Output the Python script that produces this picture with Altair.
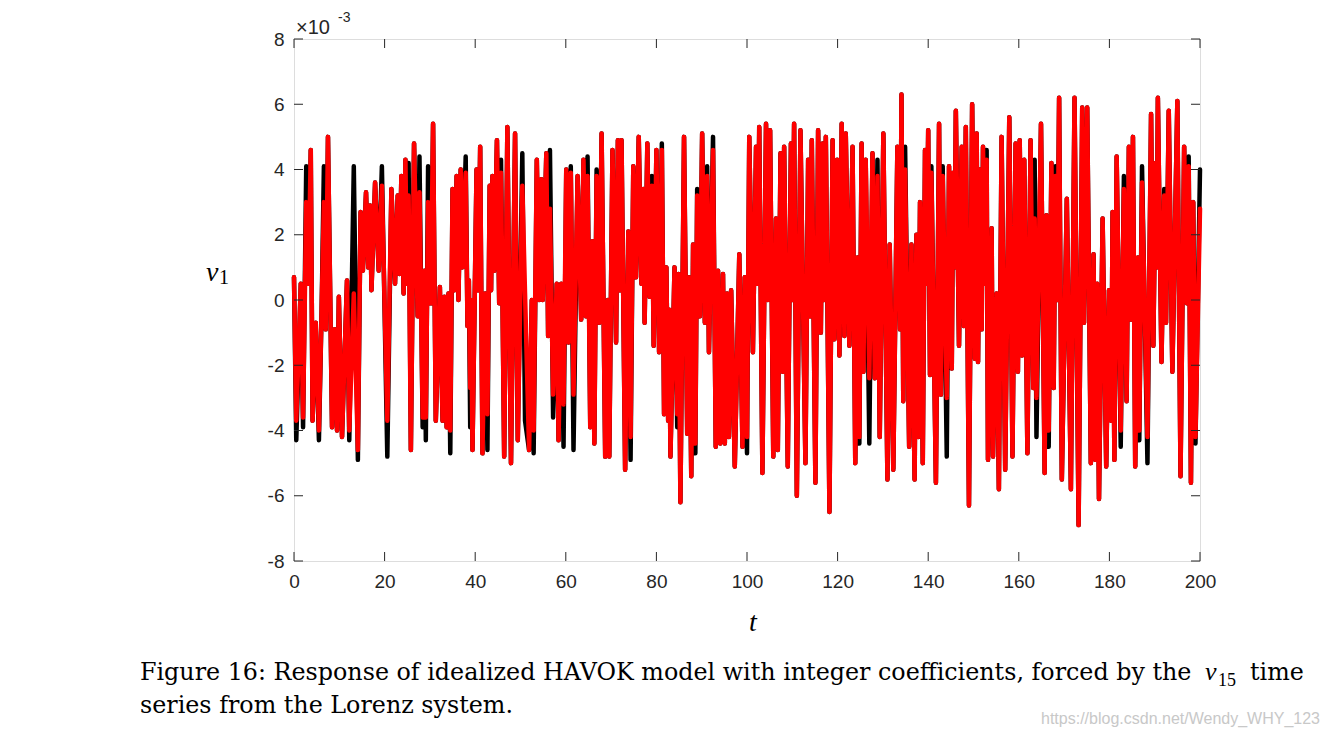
import altair as alt
import pandas as pd

# ---------------- data ----------------
t_vals = [
    0.0, 0.5, 1.5, 2.0, 2.7, 3.2, 3.7, 4.1, 4.8, 5.5,
    6.1, 6.6, 7.0, 7.5, 8.4, 9.0, 9.5, 9.9, 10.6, 11.7,
    12.2, 13.2, 14.1, 14.7, 15.2, 15.9, 16.4, 16.8, 17.1, 17.9,
    18.7, 19.4, 20.6, 21.5, 22.3, 22.9, 23.3, 23.7, 24.2, 24.6,
    24.9, 25.3, 25.8, 26.5, 27.3, 27.7, 28.4, 28.8, 29.1, 29.6,
    30.2, 30.7, 31.3, 32.2, 32.8, 33.2, 33.7, 34.1, 34.5, 35.0,
    35.4, 35.9, 36.3, 36.8, 37.2, 37.9, 38.3, 38.6, 38.9, 39.1,
    39.4, 40.3, 40.7, 41.1, 41.6, 42.2, 42.7, 43.2, 43.5, 43.8,
    44.2, 44.8, 45.3, 45.7, 46.4, 47.1, 47.9, 48.8, 49.4, 50.4,
    51.0, 51.9, 52.5, 52.9, 53.6, 54.1, 54.6, 54.9, 55.7, 56.1,
    56.5, 57.2, 58.0, 58.4, 59.0, 59.5, 60.1, 60.6, 61.1, 61.7,
    62.6, 63.4, 63.9, 64.4, 64.8, 65.4, 65.9, 66.3, 66.8, 67.4,
    67.9, 68.7, 69.3, 69.6, 70.3, 71.1, 71.5, 72.0, 72.3, 73.1,
    73.8, 74.3, 74.9, 75.5, 76.1, 76.7, 77.1, 77.4, 78.0, 78.5,
    79.0, 79.4, 80.0, 80.6, 81.2, 81.7, 82.2, 82.6, 82.85, 83.1,
    84.0, 84.6, 84.9, 85.3, 86.1, 86.8, 87.2, 87.7, 88.1, 88.6,
    89.0, 89.6, 90.1, 90.7, 91.2, 91.6, 92.5, 93.1, 93.6, 94.1,
    94.7, 95.1, 95.6, 96.0, 96.5, 97.3, 98.3, 99.0, 99.5, 100.0,
    100.5, 101.3, 102.0, 102.35, 102.7, 103.4, 104.2, 104.6, 105.1, 105.8,
    106.4, 106.8, 107.4, 107.9, 108.2, 109.0, 109.7, 110.0, 110.4, 111.0,
    111.8, 112.9, 113.5, 114.0, 114.3, 115.1, 115.7, 116.3, 116.7, 117.0,
    117.4, 118.2, 118.9, 119.3, 119.9, 120.4, 120.9, 121.5, 121.8, 122.6,
    123.3, 123.9, 124.4, 124.8, 125.3, 125.7, 126.2, 127.0, 127.7, 128.2,
    128.8, 129.3, 130.1, 131.0, 131.5, 132.3, 133.2, 133.8, 134.1, 134.5,
    134.9, 135.8, 136.3, 137.0, 137.4, 137.8, 138.2, 138.8, 139.3, 139.6,
    140.0, 140.4, 140.7, 141.7, 142.4, 142.8, 143.2, 144.1, 144.6, 145.2,
    145.5, 145.8, 146.1, 146.8, 147.4, 147.9, 148.3, 149.0, 149.7, 150.3,
    150.7, 151.0, 151.4, 151.8, 152.1, 152.5, 152.9, 153.2, 154.0, 154.3,
    155.1, 155.6, 156.2, 157.0, 157.9, 158.6, 159.3, 159.8, 160.2, 160.7,
    161.2, 161.9, 162.6, 163.2, 163.5, 163.9, 164.9, 165.7, 166.1, 166.6,
    167.2, 167.7, 168.1, 168.5, 168.9, 169.5, 170.6, 171.5, 172.3, 173.2,
    174.0, 174.4, 175.1, 175.9, 176.5, 176.9, 177.3, 177.7, 178.5, 179.3,
    179.9, 180.4, 180.7, 181.1, 181.6, 182.5, 183.2, 183.8, 184.3, 184.8,
    185.2, 185.7, 186.3, 186.6, 187.2, 188.4, 189.2, 189.7, 190.2, 190.45,
    190.7, 191.5, 192.1, 192.5, 193.1, 193.9, 195.0, 195.7, 196.5, 197.1,
    197.5, 198.0, 198.5, 199.0, 200.0,
]

# HAVOK model response (red, x1e-3)
v_red = [
    0.7, -3.7, 0.5, -3.6, 3.0, 0.5, 4.6, -3.7, -0.7, -4.0,
    -0.3, 3.0, -0.9, 5.0, -3.9, -0.9, -4.0, 0.1, -4.2, 0.6,
    -4.0, 0.2, -4.6, 2.7, 0.9, 3.3, 1.0, 2.9, 0.3, 3.6,
    0.9, 3.5, -3.7, 3.4, 0.5, 3.2, 0.8, 3.8, 0.2, 4.3,
    0.5, 3.2, -4.6, 4.8, -0.5, 3.3, -3.6, 0.9, -3.6, 3.0,
    -0.1, 5.4, -3.7, 0.4, -3.7, 0.1, -3.9, 0.2, -4.0, 3.4,
    0.3, 3.8, 0.0, 4.0, 1.0, 3.9, -0.8, 0.6, -2.7, 0.0,
    -4.6, 4.0, 0.3, 4.7, -4.7, 0.2, -3.5, 3.5, 0.3, 3.8,
    0.9, 4.9, -0.1, 3.9, -4.8, 5.3, -5.0, 5.1, -4.3, 3.5,
    0.2, -4.6, 0.0, -4.0, 4.3, 0.0, 3.7, 0.0, 4.5, -1.1,
    2.8, -2.9, 0.5, -4.3, 0.5, -3.2, 4.0, -1.3, 3.9, -2.9,
    3.8, -0.6, 4.3, -0.5, 3.8, -3.9, 1.8, -4.4, 3.8, -0.7,
    5.1, -4.8, 0.0, -4.8, 4.6, -1.3, 4.9, 0.3, 4.9, -5.2,
    2.1, -4.2, 4.1, 0.7, 5.0, 0.5, 3.4, -0.7, 4.8, 0.1,
    3.5, -1.4, 4.6, -1.6, 4.6, -3.5, 1.0, -3.7, -0.3, -4.8,
    1.0, -3.5, 0.8, -6.2, 5.0, -4.1, 0.7, -5.4, 1.7, -4.4,
    3.2, -0.5, 5.1, -0.7, 3.8, -1.6, 4.6, -4.5, 0.9, -4.4,
    0.8, -4.4, 0.2, -4.2, 0.3, -5.1, 1.4, -4.5, 0.7, -4.2,
    5.0, -1.6, 4.7, 0.5, 5.3, -5.3, 5.4, 0.0, 5.2, -4.8,
    2.5, -4.6, 4.5, -2.2, 4.7, -5.1, 4.8, 0.0, 5.4, -6.0,
    5.2, -5.0, 4.3, -0.5, 4.9, -5.6, 5.2, -1.0, 4.8, 0.0,
    5.0, -6.5, 4.9, -1.2, 4.3, -1.7, 5.4, -1.1, 5.1, -1.4,
    4.7, -5.0, 1.3, -4.2, 4.8, -2.2, 4.3, -2.4, 4.5, -2.4,
    3.8, -4.2, 5.1, -5.5, 1.7, -5.2, 4.7, -0.9, 6.3, -3.1,
    4.0, -4.5, 1.7, -5.5, 2.0, -4.2, 3.0, -5.0, 4.6, 0.5,
    5.2, -2.3, 3.9, -5.6, 5.4, -2.9, 3.8, -3.0, 4.1, -2.1,
    3.9, 1.0, 5.8, -1.4, 4.7, -0.8, 5.3, -6.3, 6.0, -1.8,
    5.1, -1.9, 4.0, -0.9, 4.7, 0.5, 4.3, -4.9, 2.2, -4.8,
    0.2, -5.8, 5.0, -5.2, 5.6, -4.8, 4.8, -2.2, 4.9, -1.7,
    4.3, -4.7, 4.9, -2.7, 2.5, -3.0, 5.4, -5.3, 2.6, -4.0,
    4.2, -2.7, 3.8, 0.0, 6.2, -5.5, 3.1, -5.8, 6.2, -6.9,
    5.9, -0.7, 5.9, -5.0, 1.4, -4.9, 0.5, -6.1, 2.5, -5.1,
    0.3, -3.7, 2.7, -4.9, 4.4, -4.0, 3.4, -3.1, 4.7, -0.6,
    5.0, -5.1, 1.3, -4.0, 3.6, -4.2, 5.7, -1.4, 4.2, 1.0,
    6.2, -1.9, 3.2, -0.7, 5.8, -2.2, 6.1, -5.4, 4.7, -0.1,
    4.1, -5.6, 3.0, -4.2, 2.8,
]

# reference v1 series (black, x1e-3)
v_black = [
    0.7, -4.3, 0.5, -3.9, 4.1, 0.5, 4.6, -3.7, -0.7, -4.3,
    -0.3, 4.1, -0.9, 5.0, -3.9, -0.9, -4.0, 0.1, -4.2, 0.6,
    -4.3, 4.1, -4.9, 2.7, 0.9, 3.3, 1.0, 2.9, 0.3, 3.6,
    0.9, 4.1, -4.8, 3.4, 0.5, 3.2, 0.8, 3.8, 0.2, 4.3,
    0.5, 4.2, -4.6, 4.8, -0.5, 4.4, -3.9, 0.9, -4.3, 4.1,
    -0.1, 5.4, -3.7, 0.4, -3.7, 0.1, -3.9, 0.2, -4.7, 3.4,
    0.3, 3.8, 0.0, 4.0, 1.0, 4.4, -0.8, 0.6, -3.9, 0.0,
    -4.6, 4.0, 0.3, 4.7, -4.7, 0.2, -4.6, 3.5, 0.3, 3.8,
    0.9, 4.9, -0.1, 4.3, -4.8, 5.3, -5.0, 5.1, -4.3, 4.5,
    -3.7, -4.6, 0.0, -4.7, 4.3, 0.0, 3.7, 0.0, 4.5, -1.1,
    4.6, -3.6, 0.5, -4.3, 0.5, -4.5, 4.0, -1.3, 4.1, -4.6,
    3.8, -0.6, 4.3, -0.5, 4.4, -3.9, 1.8, -4.4, 4.0, -0.7,
    5.1, -4.8, 0.0, -4.8, 4.6, -1.3, 4.9, 0.3, 4.9, -5.2,
    2.1, -4.9, 4.1, 0.7, 5.0, 0.5, 3.4, -0.7, 4.8, 0.1,
    3.8, -1.4, 4.6, -1.6, 4.8, -3.5, 1.0, -3.7, -0.3, -4.8,
    1.0, -3.9, 0.8, -6.2, 5.0, -4.1, 0.7, -5.4, 1.7, -4.7,
    3.4, -0.5, 5.1, -0.7, 4.1, -1.6, 5.0, -4.5, 0.9, -4.4,
    0.8, -4.4, 0.2, -4.2, 0.3, -5.1, 1.4, -4.5, 0.7, -4.7,
    5.0, -1.6, 4.7, 0.5, 5.3, -5.3, 5.4, 0.0, 5.2, -4.8,
    2.5, -4.6, 4.5, -2.2, 4.7, -5.1, 4.8, 0.0, 5.4, -6.0,
    5.2, -5.0, 4.3, -0.5, 4.9, -5.6, 5.2, -1.0, 4.8, 0.0,
    5.0, -6.5, 4.9, -1.2, 4.3, -1.7, 5.4, -1.1, 5.1, -1.4,
    4.7, -5.0, 1.3, -4.4, 4.8, -2.2, 4.3, -4.4, 4.5, -2.4,
    4.3, -4.2, 5.1, -5.5, 1.7, -5.2, 4.7, -0.9, 6.3, -3.1,
    4.7, -4.5, 1.7, -5.5, 2.0, -4.2, 3.0, -5.0, 4.6, 0.5,
    5.2, -2.3, 4.1, -5.6, 5.4, -2.9, 4.1, -4.8, 4.1, -2.1,
    3.9, 1.0, 5.8, -1.4, 4.7, -0.8, 5.3, -6.3, 6.0, -1.8,
    5.1, -1.9, 4.0, -0.9, 4.7, 0.5, 4.6, -4.9, 2.2, -4.8,
    0.2, -5.8, 5.0, -5.2, 5.6, -4.8, 4.8, -2.2, 4.9, -1.7,
    4.3, -4.7, 4.9, -2.7, 4.3, -4.2, 5.4, -5.3, 2.6, -4.5,
    4.2, -2.7, 4.1, 0.0, 6.2, -5.5, 3.1, -5.8, 6.2, -6.9,
    5.9, -0.7, 5.9, -5.0, 1.4, -4.9, 0.5, -6.1, 2.5, -5.1,
    0.3, -3.7, 2.7, -4.9, 4.4, -4.5, 3.8, -3.1, 4.7, -0.6,
    5.0, -5.1, 1.3, -4.3, 4.1, -5.0, 5.7, -1.4, 4.2, 1.0,
    6.2, -1.9, 3.4, -0.7, 5.8, -2.2, 6.1, -5.4, 4.7, -0.1,
    4.4, -5.6, 3.0, -4.4, 4.0,
]

x_ticks = [0, 20, 40, 60, 80, 100, 120, 140, 160, 180, 200]
y_ticks = [-8, -6, -4, -2, 0, 2, 4, 6, 8]

caption_line1 = ["Figure 16: Response of idealized HAVOK model with integer coefficients, forced by the"]
caption_v = ["v"]
caption_sub = ["15"]
caption_time = ["time"]
caption_line2 = ["series from the Lorenz system."]
ylabel_main = ["v"]
ylabel_sub = ["1"]
xlabel = ["t"]
exp_base = ["\u00d710"]
exp_power = ["-3"]
watermark = ["https://blog.csdn.net/Wendy_WHY_123"]

# ---------------- chart ----------------
W, H = 906, 522

xs = alt.Scale(domain=[0, 200], nice=False, zero=False)
ys = alt.Scale(domain=[-8, 8], nice=False, zero=False)

axis_common = dict(
    grid=False, tickSize=0, domain=False, title=None, labelFlush=False,
    labelFont="Liberation Sans", labelFontSize=19, labelColor="#262626",
    labelExpr="'' + datum.value",
)
x_axis = alt.Axis(values=x_ticks, labelPadding=11, **axis_common)
y_axis = alt.Axis(values=y_ticks, labelPadding=10, **axis_common)

data = pd.DataFrame({"t": t_vals, "red": v_red, "black": v_black})

line_style = dict(strokeWidth=4.5, strokeJoin="round", strokeCap="round")
black_line = alt.Chart(data).mark_line(color="#000000", **line_style).encode(
    x=alt.X("t:Q", scale=xs, axis=x_axis),
    y=alt.Y("black:Q", scale=ys, axis=y_axis),
)
red_line = alt.Chart(data).mark_line(color="#ff0000", **line_style).encode(
    x=alt.X("t:Q", scale=xs, axis=x_axis),
    y=alt.Y("red:Q", scale=ys, axis=y_axis),
)

ytick_df = pd.DataFrame({"v": y_ticks})
xtick_df = pd.DataFrame({"t": x_ticks})
tick_style = dict(color="#262626", strokeWidth=1)
left_ticks = alt.Chart(ytick_df).mark_rule(**tick_style).encode(
    y=alt.Y("v:Q", scale=ys, axis=y_axis), x=alt.value(0), x2=alt.value(9))
right_ticks = alt.Chart(ytick_df).mark_rule(**tick_style).encode(
    y=alt.Y("v:Q", scale=ys, axis=y_axis), x=alt.value(W - 9), x2=alt.value(W))
bottom_ticks = alt.Chart(xtick_df).mark_rule(**tick_style).encode(
    x=alt.X("t:Q", scale=xs, axis=x_axis), y=alt.value(H - 9), y2=alt.value(H))
top_ticks = alt.Chart(xtick_df).mark_rule(**tick_style).encode(
    x=alt.X("t:Q", scale=xs, axis=x_axis), y=alt.value(0), y2=alt.value(9))


def text_layer(words, x, y, size, font, style="normal", color="#000000", align="left"):
    return alt.Chart(pd.DataFrame({"s": words})).mark_text(
        align=align, baseline="alphabetic", fontSize=size, font=font,
        fontStyle=style, color=color,
    ).encode(x=alt.value(x), y=alt.value(y), text="s:N")


serif = "Liberation Serif"
capfont = "DejaVu Serif"
sans = "Liberation Sans"
texts = [
    text_layer(caption_line1, -154, 641, 23.8, capfont),
    text_layer(caption_v, 911, 641, 26, serif, style="italic"),
    text_layer(caption_sub, 924, 647, 18, serif),
    text_layer(caption_time, 956, 641, 23.8, capfont),
    text_layer(caption_line2, -154, 674, 23.8, capfont),
    text_layer(ylabel_main, -88, 242, 28, serif, style="italic"),
    text_layer(ylabel_sub, -75, 245, 20, serif),
    text_layer(xlabel, 459, 592, 28, serif, style="italic", align="center"),
    text_layer(exp_base, 2, -5, 20, sans, color="#262626"),
    text_layer(exp_power, 44, -17, 14, sans, color="#262626"),
    text_layer(watermark, 1026, 685, 16, sans, color="#c8c8c8", align="right"),
]

chart = alt.layer(
    black_line, red_line, left_ticks, right_ticks, bottom_ticks, top_ticks, *texts
).properties(
    width=W, height=H,
    padding={"left": 286, "top": 31, "right": 121, "bottom": 167},
    autosize=alt.AutoSizeParams(type="none"),
).configure_view(stroke="#555555", strokeWidth=1).configure(background="white")

chart.save("out.html", embed_options={"renderer": "svg", "actions": False})
